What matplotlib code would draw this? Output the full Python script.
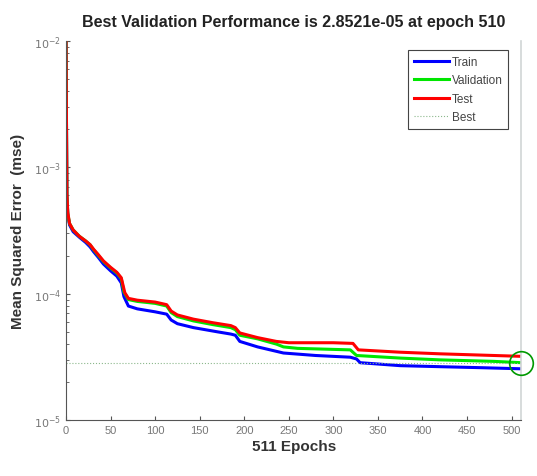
import matplotlib
matplotlib.use("Agg")
import matplotlib.pyplot as plt

# Training record (MSE per epoch, breakpoints of each curve)
train_epochs = [0, 1, 2, 4, 8, 15, 22, 27, 31, 36, 42, 50, 57, 62, 65, 70, 80, 100, 113, 118,
                125, 143, 170, 185, 190, 195, 215, 244, 280, 319, 326, 330, 375, 420, 468, 511]
train_mse = [1.05e-2, 6.0e-4, 4.2e-4, 3.5e-4, 3.1e-4, 2.8e-4, 2.55e-4, 2.35e-4, 2.15e-4, 1.95e-4,
             1.72e-4, 1.52e-4, 1.38e-4, 1.22e-4, 9.5e-5, 8.0e-5, 7.6e-5, 7.2e-5, 6.9e-5, 6.2e-5,
             5.8e-5, 5.4e-5, 5.0e-5, 4.8e-5, 4.7e-5, 4.2e-5, 3.8e-5, 3.4e-5, 3.25e-5, 3.15e-5,
             3.05e-5, 2.85e-5, 2.7e-5, 2.65e-5, 2.6e-5, 2.55e-5]

val_epochs = [0, 1, 2, 4, 8, 15, 22, 27, 31, 36, 42, 50, 57, 62, 65, 70, 80, 100, 113, 118,
              125, 143, 165, 185, 190, 195, 215, 236, 244, 260, 319, 326, 375, 420, 480, 510, 511]
val_mse = [1.05e-2, 6.0e-4, 4.3e-4, 3.6e-4, 3.2e-4, 2.85e-4, 2.62e-4, 2.44e-4, 2.23e-4, 2.02e-4,
           1.8e-4, 1.6e-4, 1.46e-4, 1.32e-4, 1.03e-4, 9.0e-5, 8.7e-5, 8.4e-5, 8.0e-5, 7.1e-5,
           6.6e-5, 6.1e-5, 5.7e-5, 5.4e-5, 5.2e-5, 4.7e-5, 4.4e-5, 4.0e-5, 3.8e-5, 3.7e-5,
           3.6e-5, 3.25e-5, 3.1e-5, 3.0e-5, 2.92e-5, 2.8521e-5, 2.8521e-5]

test_epochs = [0, 1, 2, 4, 8, 15, 22, 27, 31, 36, 42, 50, 57, 62, 66, 70, 80, 100, 113, 118,
               125, 143, 165, 185, 190, 195, 215, 236, 250, 274, 300, 322, 328, 375, 420, 480, 511]
test_mse = [1.1e-2, 6.2e-4, 4.4e-4, 3.6e-4, 3.2e-4, 2.85e-4, 2.62e-4, 2.45e-4, 2.25e-4, 2.05e-4,
            1.82e-4, 1.62e-4, 1.48e-4, 1.34e-4, 1.02e-4, 9.2e-5, 8.9e-5, 8.6e-5, 8.2e-5, 7.3e-5,
            6.8e-5, 6.3e-5, 5.9e-5, 5.6e-5, 5.4e-5, 4.9e-5, 4.5e-5, 4.2e-5, 4.1e-5, 4.1e-5,
            4.1e-5, 4.05e-5, 3.6e-5, 3.45e-5, 3.35e-5, 3.25e-5, 3.2e-5]

best_epoch = 510
best_perf = 2.8521e-05
n_epochs = 511

x_ticks = list(range(0, 501, 50))
y_ticks = [1e-5, 1e-4, 1e-3, 1e-2]
y_tick_labels = [r"$10^{-5}$", r"$10^{-4}$", r"$10^{-3}$", r"$10^{-2}$"]

plt.rcParams['font.family'] = ['Liberation Sans', 'DejaVu Sans']

fig = plt.figure(figsize=(5.37, 4.77), dpi=100)
ax = fig.add_axes([0.1229, 0.117, 0.8481, 0.795])

ax.plot(train_epochs, train_mse, color=(0, 0, 1), lw=2.2, label="Train")
ax.plot(val_epochs, val_mse, color=(0, 0.9, 0), lw=2.2, label="Validation")
ax.plot(test_epochs, test_mse, color=(1, 0, 0), lw=2.2, label="Test")
ax.axhline(best_perf, color=(0.55, 0.72, 0.55), lw=0.8, ls=":", label="Best")
ax.axvline(best_epoch, color=(0.82, 0.84, 0.84), lw=1.2, ls="-", clip_on=False)
ax.plot([best_epoch], [best_perf], "o", mfc="none", mec=(0, 0.6, 0), ms=17, mew=1.2,
        clip_on=False)

ax.set_yscale("log")
ax.set_xlim(0, n_epochs)
ax.set_ylim(1e-5, 1e-2)
ax.set_xticks(x_ticks)
ax.set_yticks(y_ticks)
ax.set_yticklabels(y_tick_labels)
ax.tick_params(axis="both", which="both", direction="in", colors="#555555",
               labelsize=8, labelcolor="#777777")
ax.tick_params(axis="both", which="major", length=3)
ax.tick_params(axis="y", which="minor", length=2)

for s in ("top", "right"):
    ax.spines[s].set_visible(False)
for s in ("left", "bottom"):
    ax.spines[s].set_color("#555555")
    ax.spines[s].set_linewidth(0.8)

ax.set_title("Best Validation Performance is 2.8521e-05 at epoch 510",
             fontsize=11.5, fontweight="bold", pad=11, color="#222222")
ax.set_xlabel("511 Epochs", fontsize=11, fontweight="bold", labelpad=3, color="#333333")
ax.set_ylabel("Mean Squared Error  (mse)", fontsize=11, fontweight="bold", labelpad=6,
              color="#333333")

leg = ax.legend(loc="upper right", bbox_to_anchor=(0.97, 0.975), fontsize=8.5,
                fancybox=False, framealpha=1, edgecolor="#444444",
                handlelength=3.0, handletextpad=0.2, borderpad=0.45, labelspacing=0.55,
                borderaxespad=0)
leg.get_frame().set_linewidth(0.8)
for t in leg.get_texts():
    t.set_color("#444444")

fig.savefig("out.png", dpi=100)
